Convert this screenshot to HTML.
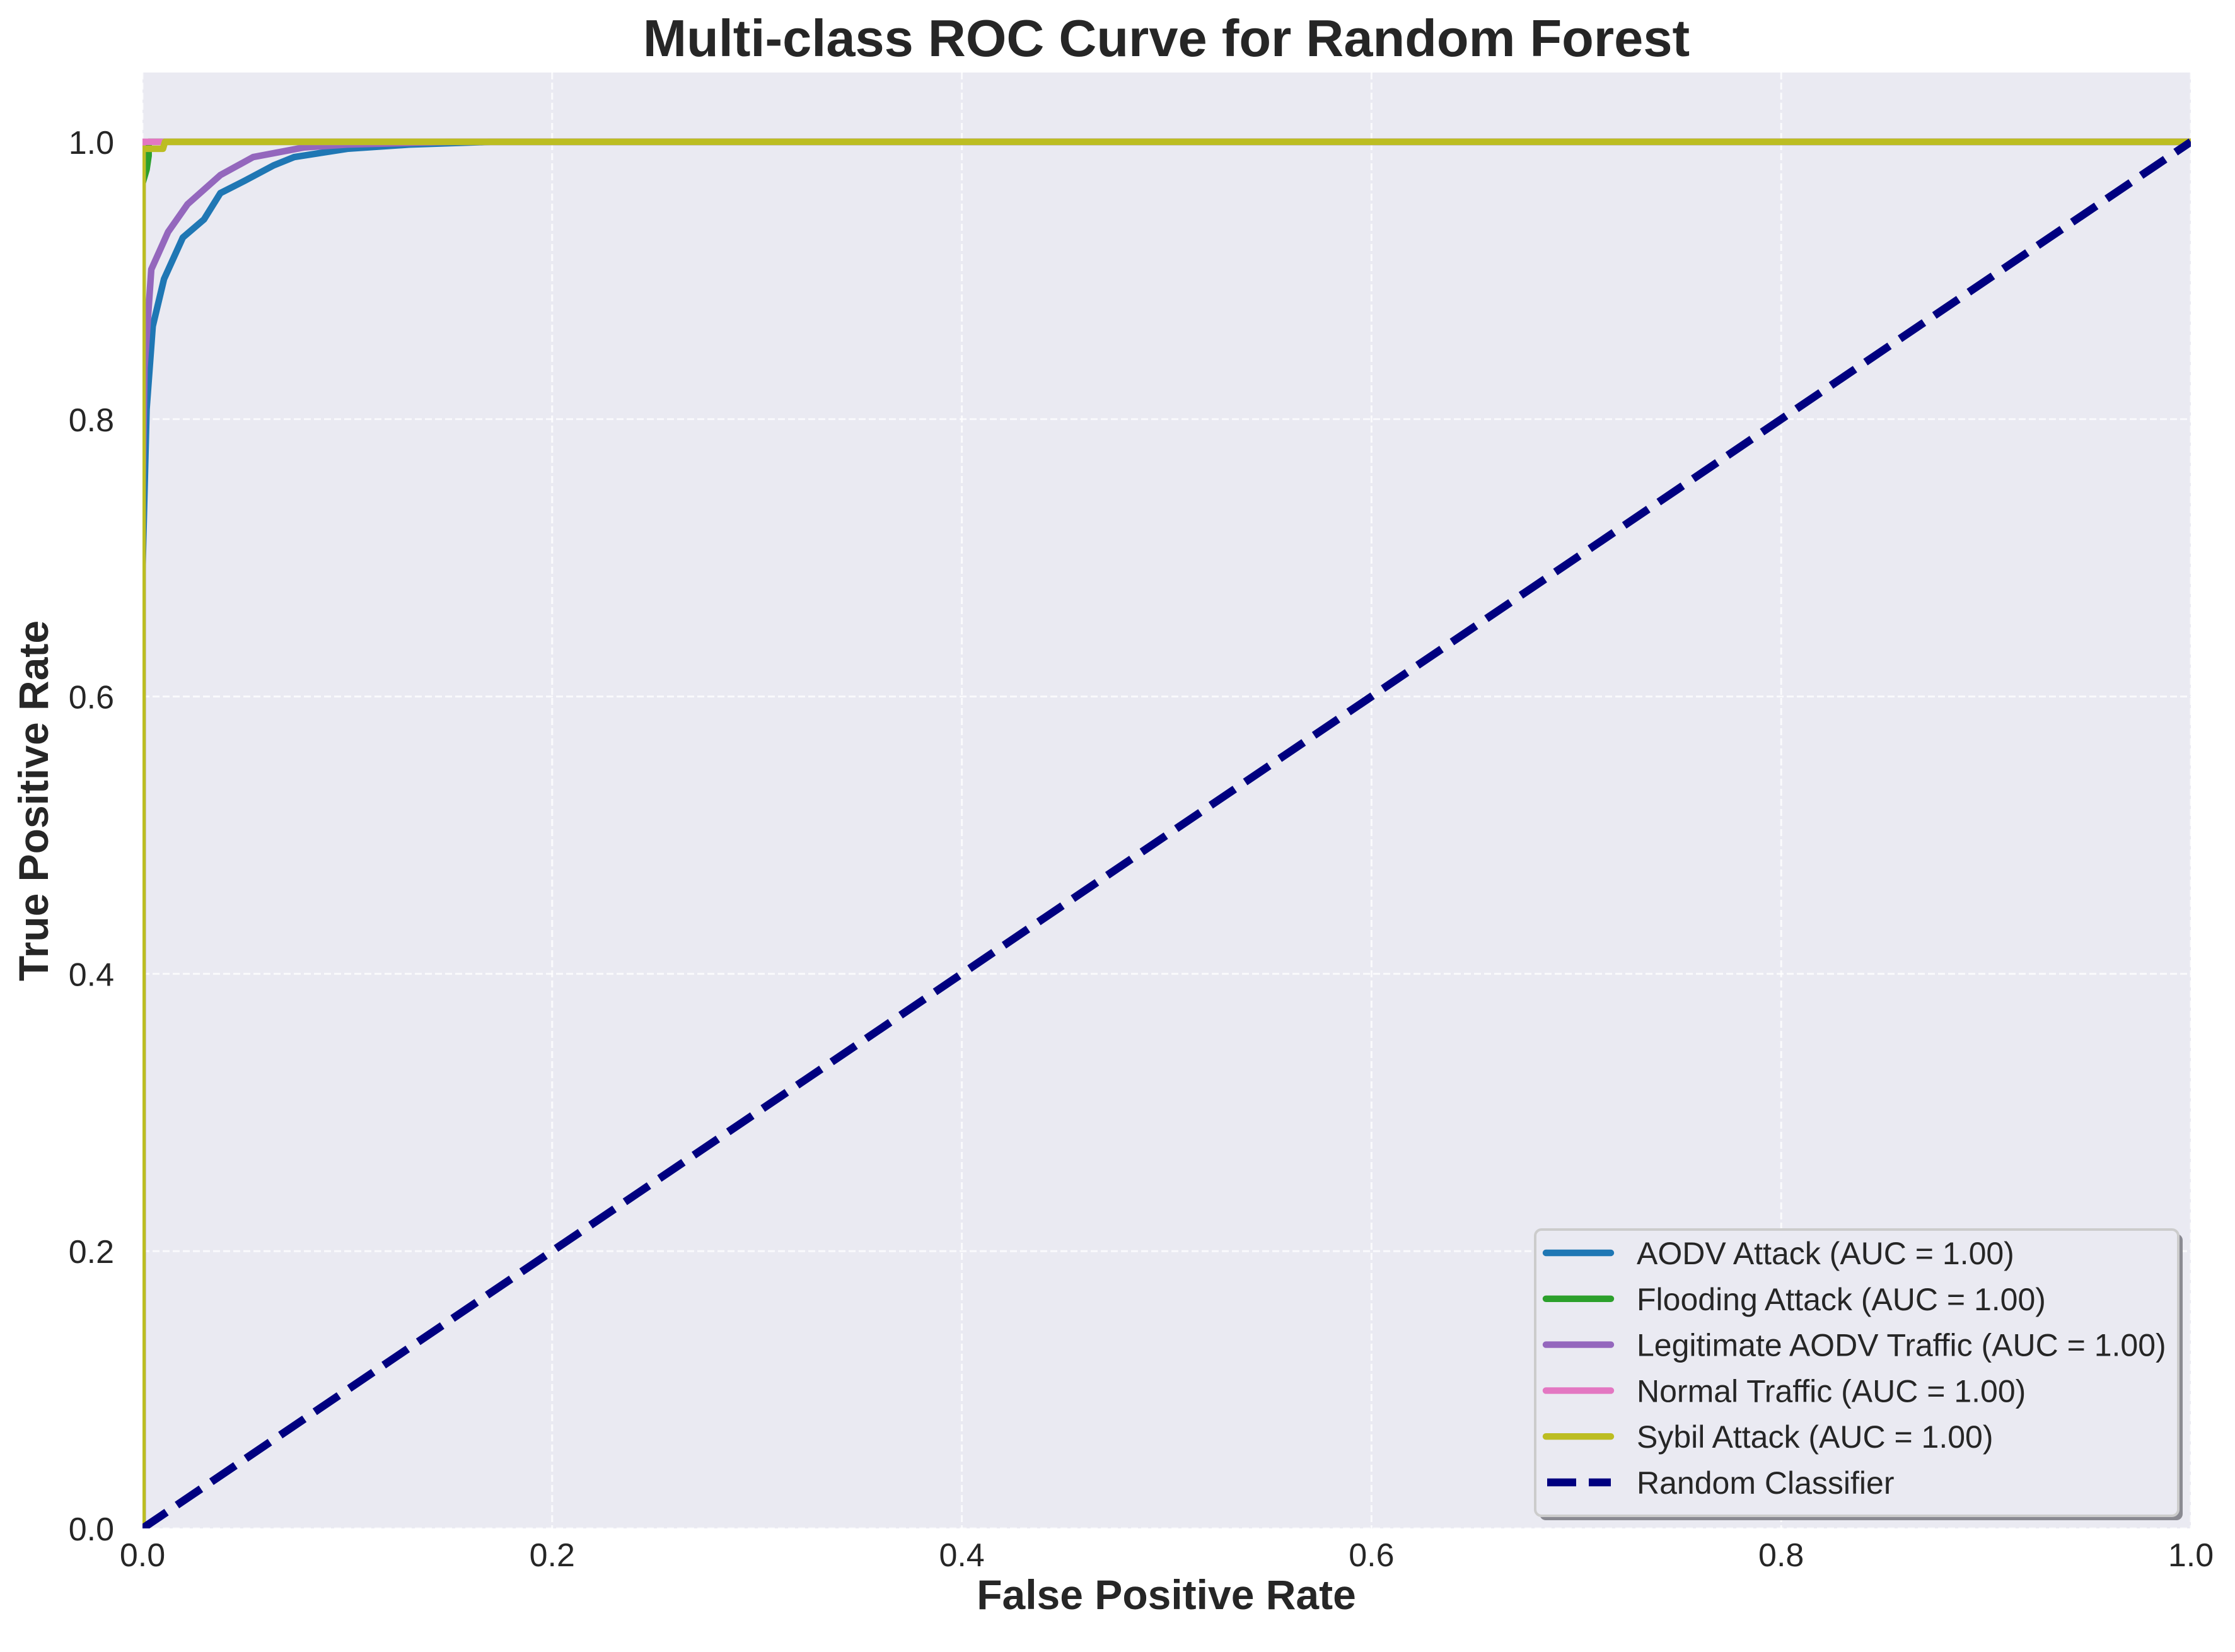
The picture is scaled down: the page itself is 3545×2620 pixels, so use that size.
<!DOCTYPE html>
<html><head><meta charset="utf-8"><style>
html,body{margin:0;padding:0;background:#fff;}
svg{display:block;font-family:"Liberation Sans",Arial,sans-serif;}
</style></head><body>
<svg id="chart" width="3545" height="2620" viewBox="0 0 3545 2620" xmlns="http://www.w3.org/2000/svg">
<defs><clipPath id="plotclip"><rect x="226" y="115" width="3249" height="2309"/></clipPath></defs>
<rect x="0" y="0" width="3545" height="2620" fill="#ffffff"/>
<rect x="226" y="115" width="3249" height="2309" fill="#eaeaf2"/>
<g id="grid"></g>
<g id="series" clip-path="url(#plotclip)"></g>
<g id="ticks"></g>
<text x="1850" y="89" font-size="83" font-weight="bold" fill="#262626" text-anchor="middle">Multi-class ROC Curve for Random Forest</text>
<text x="1850" y="2552" font-size="66" font-weight="bold" fill="#262626" text-anchor="middle">False Positive Rate</text>
<text x="0" y="0" transform="translate(76,1270) rotate(-90)" font-size="66" font-weight="bold" fill="#262626" text-anchor="middle">True Positive Rate</text>
<g>
<rect x="2442" y="1957" width="1020" height="454" rx="10" fill="#8a8a92"/>
<rect x="2435" y="1950" width="1020" height="454" rx="10" fill="#eaeaf2" stroke="#cccccc" stroke-width="4"/>
<g id="legend-items"></g>
</g>
</svg>
<script>
const xTicks = [0, 0.2, 0.4, 0.6, 0.8, 1.0];
const yTicks = [0, 0.2, 0.4, 0.6, 0.8, 1.0];
const tickLabels = ["0.0", "0.2", "0.4", "0.6", "0.8", "1.0"];
const seriesNames = ["AODV Attack (AUC = 1.00)", "Flooding Attack (AUC = 1.00)", "Legitimate AODV Traffic (AUC = 1.00)", "Normal Traffic (AUC = 1.00)", "Sybil Attack (AUC = 1.00)", "Random Classifier"];
const aodvFpr = [0, 0, 0.002, 0.005, 0.0105, 0.0197, 0.03, 0.038, 0.05, 0.064, 0.074, 0.1, 0.13, 0.17, 1];
const aodvTpr = [0, 0.69, 0.807, 0.867, 0.901, 0.931, 0.944, 0.963, 0.972, 0.983, 0.989, 0.995, 0.998, 1, 1];
const floodFpr = [0, 0, 0.002, 0.003, 0.003, 1];
const floodTpr = [0, 0.97, 0.98, 0.99, 1, 1];
const legitFpr = [0, 0, 0.001, 0.0043, 0.0125, 0.022, 0.038, 0.054, 0.079, 0.1, 0.15, 1];
const legitTpr = [0, 0.75, 0.837, 0.908, 0.935, 0.955, 0.976, 0.989, 0.996, 0.998, 1, 1];
const normalFpr = [0, 0, 1];
const normalTpr = [0, 1, 1];
const sybilFpr = [0, 0, 0.01, 0.011, 1];
const sybilTpr = [0, 0.995, 0.995, 1, 1];
const diagFpr = [0, 1];
const diagTpr = [0, 1];

const NS = "http://www.w3.org/2000/svg";
const X0 = 226, X1 = 3475, YB = 2424, YT = 115;
function xs(v){ return X0 + v * (X1 - X0); }
function ys(v){ return YB - v * (YB - YT) / 1.05; }

const grid = document.getElementById('grid');
xTicks.forEach((t, i) => {
  const l = document.createElementNS(NS, 'line');
  l.setAttribute('x1', xs(t)); l.setAttribute('x2', xs(t));
  l.setAttribute('y1', YT); l.setAttribute('y2', YB);
  l.setAttribute('stroke', '#ffffff'); l.setAttribute('stroke-width', '3');
  l.setAttribute('stroke-dasharray', '11 5'); l.setAttribute('opacity', '0.8');
  
  
  grid.appendChild(l);
});
yTicks.forEach((t, i) => {
  const l = document.createElementNS(NS, 'line');
  l.setAttribute('x1', X0); l.setAttribute('x2', X1);
  l.setAttribute('y1', ys(t)); l.setAttribute('y2', ys(t));
  l.setAttribute('stroke', '#ffffff'); l.setAttribute('stroke-width', '3');
  l.setAttribute('stroke-dasharray', '11 5'); l.setAttribute('opacity', '0.8');
  
  
  grid.appendChild(l);
});

const ticks = document.getElementById('ticks');
xTicks.forEach((t, i) => {
  const tx = document.createElementNS(NS, 'text');
  tx.setAttribute('x', xs(t)); tx.setAttribute('y', 2484);
  tx.setAttribute('font-size', '52'); tx.setAttribute('fill', '#262626');
  tx.setAttribute('text-anchor', 'middle');
  
  
  tx.textContent = tickLabels[i];
  ticks.appendChild(tx);
});
yTicks.forEach((t, i) => {
  const tx = document.createElementNS(NS, 'text');
  tx.setAttribute('x', 181); tx.setAttribute('y', ys(t) + 19);
  tx.setAttribute('font-size', '52'); tx.setAttribute('fill', '#262626');
  tx.setAttribute('text-anchor', 'end');
  
  
  tx.textContent = tickLabels[i];
  ticks.appendChild(tx);
});

const colors = ["#1f77b4", "#2ca02c", "#9467bd", "#e377c2", "#bcbd22", "#000080"];
const fprs = [aodvFpr, floodFpr, legitFpr, normalFpr, sybilFpr, diagFpr];
const tprs = [aodvTpr, floodTpr, legitTpr, normalTpr, sybilTpr, diagTpr];
const names = ['roc-aodv-attack', 'roc-flooding-attack', 'roc-legitimate-aodv', 'roc-normal-traffic', 'roc-sybil-attack', 'random-classifier-line'];
const series = document.getElementById('series');
fprs.forEach((f, k) => {
  const p = document.createElementNS(NS, 'polyline');
  p.setAttribute('points', f.map((v, j) => xs(v) + ',' + ys(tprs[k][j])).join(' '));
  p.setAttribute('fill', 'none');
  p.setAttribute('stroke', colors[k]);
  p.setAttribute('stroke-width', k === 5 ? '12.5' : '10.4');
  p.setAttribute('stroke-linejoin', 'round');
  if (k === 5) p.setAttribute('stroke-dasharray', '46 20');
  else p.setAttribute('stroke-linecap', 'round');
  
  
  series.appendChild(p);
});

const leg = document.getElementById('legend-items');
seriesNames.forEach((n, k) => {
  const cy = 1987 + k * 72.8;
  const l = document.createElementNS(NS, 'line');
  l.setAttribute('x1', 2452); l.setAttribute('x2', 2555);
  l.setAttribute('y1', cy); l.setAttribute('y2', cy);
  l.setAttribute('stroke', colors[k]);
  l.setAttribute('stroke-width', k === 5 ? '12.5' : '10.4');
  if (k === 5) { l.setAttribute('stroke-dasharray', '46 20'); l.setAttribute('x1', 2454); }
  else l.setAttribute('stroke-linecap', 'round');
  
  
  leg.appendChild(l);
  const t = document.createElementNS(NS, 'text');
  t.setAttribute('x', 2596); t.setAttribute('y', cy + 18);
  t.setAttribute('font-size', '50'); t.setAttribute('fill', '#262626');
  
  
  t.textContent = n;
  leg.appendChild(t);
});
</script>
</body></html>
